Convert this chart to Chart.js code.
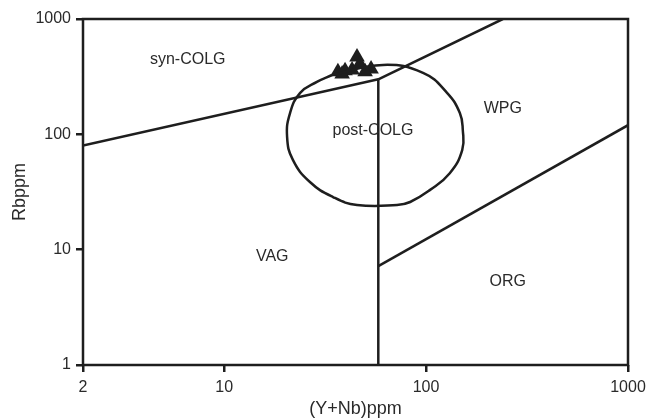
<!DOCTYPE html>
<html>
<head>
<meta charset="utf-8">
<script src="https://cdn.jsdelivr.net/npm/chart.js@4"></script>
<style>
  html, body { margin: 0; padding: 0; background: #fff; }
  #wrap { width: 653px; height: 420px; }
</style>
</head>
<body>
<div id="wrap"><canvas id="c" width="653" height="420"></canvas></div>
<script>
// tick values
const xTicks = [2, 10, 100, 1000];
const yTicks = [1, 10, 100, 1000];

// field boundaries (Y+Nb, Rb)
const synVagX = [2, 58];
const synVagY = [80, 300];
const synWpgX = [58, 240];
const synWpgY = [300, 1000];
const vagWpgX = [58, 58];
const vagWpgY = [1, 300];
const orgWpgX = [58, 1000];
const orgWpgY = [7.2, 120];

// post-COLG field outline
const postX = [34.2, 61.2, 96.6, 127, 147, 152, 151, 131, 104.7, 83.4, 71.8, 45.5, 34.6, 26.6, 21.9, 20.5, 21.2, 23.8, 28.8, 34.2];
const postY = [327, 400, 341, 229, 153, 109, 73, 46, 33, 25.9, 24.4, 24.4, 28.6, 38.6, 60, 95, 153, 229, 285, 327];

// samples
const sampleX = [36.6, 39.7, 43, 45.5, 47, 53.4, 38.4, 49.9];
const sampleY = [348, 355, 362, 469, 408, 369, 334, 348];

// field names
const fieldNames = ['syn-COLG', 'post-COLG', 'WPG', 'VAG', 'ORG'];
const fieldX = [6.6, 54.6, 240, 17.3, 254];
const fieldY = [442, 107, 166, 8.64, 5.25];

const ink = '#1e1e1e';
const txt = '#2a2a2a';
const fam = '"Liberation Sans", Arial, sans-serif';

function pts(xs, ys) {
  return xs.map((x, i) => ({x: x, y: ys[i]}));
}
function lineSet(xs, ys, extra) {
  return Object.assign({
    data: pts(xs, ys),
    showLine: true,
    borderColor: ink,
    borderWidth: 2.5,
    pointRadius: 0,
    fill: false
  }, extra || {});
}

const framePlugin = {
  id: 'frame',
  afterDatasetsDraw(chart) {
    const {ctx, chartArea: a, scales} = chart;
    ctx.save();
    ctx.strokeStyle = ink;
    ctx.lineWidth = 2.5;
    ctx.strokeRect(a.left, a.top, a.right - a.left, a.bottom - a.top);
    ctx.fillStyle = txt;
    ctx.font = '16px ' + fam;
    ctx.textAlign = 'center';
    ctx.textBaseline = 'middle';
    fieldNames.forEach((n, i) => {
      ctx.fillText(n, scales.x.getPixelForValue(fieldX[i]), scales.y.getPixelForValue(fieldY[i]));
    });
    ctx.restore();
  }
};

new Chart(document.getElementById('c'), {
  type: 'scatter',
  data: {
    datasets: [
      lineSet(synVagX, synVagY),
      lineSet(synWpgX, synWpgY),
      lineSet(vagWpgX, vagWpgY),
      lineSet(orgWpgX, orgWpgY),
      lineSet(postX, postY, {tension: 0.45}),
      {
        data: pts(sampleX, sampleY),
        pointStyle: 'triangle',
        pointRadius: 9,
        backgroundColor: ink,
        borderColor: ink,
        borderWidth: 0,
        showLine: false
      }
    ]
  },
  options: {
    responsive: false,
    animation: false,
    devicePixelRatio: 1,
    layout: {padding: {top: 19, right: 25, left: 0, bottom: 0}},
    plugins: {legend: {display: false}, tooltip: {enabled: false}},
    scales: {
      x: {
        type: 'logarithmic',
        min: 2,
        max: 1000,
        afterBuildTicks(s) { s.ticks = xTicks.map(v => ({value: v})); },
        afterFit(s) { s.height = 55; },
        grid: {drawOnChartArea: false, color: ink, lineWidth: 2.5, tickLength: 7},
        border: {display: false},
        ticks: {
          color: txt,
          font: {size: 16, family: fam},
          padding: 6,
          maxRotation: 0,
          autoSkip: false,
          callback: v => String(v)
        },
        title: {
          display: true,
          text: '(Y+Nb)ppm',
          color: txt,
          font: {size: 18, family: fam},
          padding: {top: 0, bottom: 0}
        }
      },
      y: {
        type: 'logarithmic',
        min: 1,
        max: 1000,
        afterBuildTicks(s) { s.ticks = yTicks.map(v => ({value: v})); },
        afterFit(s) { s.width = 83; },
        grid: {drawOnChartArea: false, color: ink, lineWidth: 2.5, tickLength: 7},
        border: {display: false},
        ticks: {
          color: txt,
          font: {size: 16, family: fam},
          padding: 5,
          autoSkip: false,
          callback: v => String(v)
        },
        title: {
          display: true,
          text: 'Rbppm',
          color: txt,
          font: {size: 18, family: fam},
          padding: {top: 9, bottom: 0}
        }
      }
    }
  },
  plugins: [framePlugin]
});
</script>
</body>
</html>
